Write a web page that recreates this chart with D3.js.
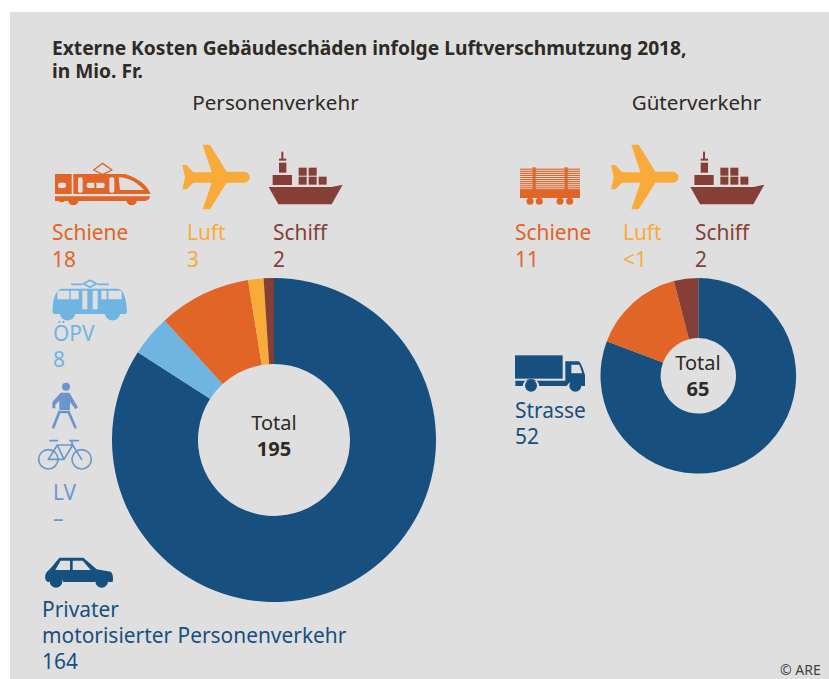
<!DOCTYPE html>
<html><head><meta charset="utf-8">
<script src="https://cdn.jsdelivr.net/npm/d3@7"></script>
<style>html,body{margin:0;padding:0;background:#fff}svg{display:block}text{font-family:"Noto Sans",sans-serif}</style>
</head><body><svg id="c" width="829" height="679"></svg>
<script>
const titleLines = ["Externe Kosten Gebäudeschäden infolge Luftverschmutzung 2018,", "in Mio. Fr."];
const passengerCategories = ["Privater motorisierter Personenverkehr", "ÖPV", "Schiene", "Luft", "Schiff"];
const passengerValues = [164, 8, 18, 3, 2];
// Freight ring: slice sizes as drawn in the picture (the printed labels are rounded differently)
const freightCategories = ["Strasse", "Schiene", "Schiff"];
const freightValues = [52.4, 9.9, 2.6];
const freightLabels = ["52", "11", "<1", "2"];
const colorByCategory = new Map([
  ["Privater motorisierter Personenverkehr", "#17507f"], ["Strasse", "#17507f"],
  ["ÖPV", "#70b5e2"], ["Schiene", "#e06526"], ["Luft", "#f9ab3a"], ["Schiff", "#853f36"]
]);
const LV = "#6b96cd", BLUE = "#17507f", LB = "#70b5e2", OR = "#e06526", YE = "#f9ab3a", BR = "#853f36", BG = "#dfdfdf", INK = "#2e2a26";

const svg = d3.select("#c");
svg.append("rect").attr("x", 10).attr("y", 12).attr("width", 819).attr("height", 667).attr("fill", BG);

function donut(cats, vals, cx, cy, R, r) {
  const pie = d3.pie().sort(null).value(d => d.v);
  const arc = d3.arc().outerRadius(R).innerRadius(r);
  svg.append("g").attr("transform", `translate(${cx},${cy})`)
    .selectAll("path").data(pie(cats.map((c, i) => ({c, v: vals[i]})))).join("path")
    .attr("d", arc).attr("fill", d => colorByCategory.get(d.data.c));
}
donut(passengerCategories, passengerValues, 274, 440, 162, 76);
donut(freightCategories, freightValues, 698.3, 375.8, 97.8, 37.7);

function t(x, y, s, fill, size, weight, anchor) {
  svg.append("text").attr("x", x).attr("y", y).text(s).attr("fill", fill)
    .attr("font-size", size).attr("font-weight", weight || 400).attr("text-anchor", anchor || "start");
}
t(52, 55, titleLines[0], INK, 19.2, 700);
t(52, 78, titleLines[1], INK, 19.2, 700);
t(275.5, 110, "Personenverkehr", INK, 20.6, 400, "middle");
t(696.5, 110, "Güterverkehr", INK, 20.6, 400, "middle");

const FS = 20.9;
t(52, 240, "Schiene", OR, FS); t(52, 267, String(passengerValues[2]), OR, FS);
t(187, 240, "Luft", YE, FS); t(187, 267, String(passengerValues[3]), YE, FS);
t(273, 240, "Schiff", BR, FS); t(273, 267, String(passengerValues[4]), BR, FS);
t(53, 341, "ÖPV", LB, FS); t(53, 367, String(passengerValues[1]), LB, FS);
t(53, 500, "LV", LV, FS); t(53, 526, "–", LV, FS);
t(42, 617, "Privater", BLUE, FS);
t(42, 643, "motorisierter Personenverkehr", BLUE, FS);
t(42, 669, String(passengerValues[0]), BLUE, FS);
t(515, 240, "Schiene", OR, FS); t(515, 267, freightLabels[1], OR, FS);
t(623, 240, "Luft", YE, FS); t(623, 267, freightLabels[2], YE, FS);
t(695, 240, "Schiff", BR, FS); t(695, 267, freightLabels[3], BR, FS);
t(515, 418, "Strasse", BLUE, FS); t(515, 444, freightLabels[0], BLUE, FS);
t(274, 430, "Total", INK, 20, 400, "middle"); t(274, 456, "195", INK, 20, 700, "middle");
t(698, 370, "Total", INK, 20, 400, "middle"); t(698, 396, "65", INK, 20, 700, "middle");
t(780, 675, "© ARE", "#444", 14);

// Icons traced in 3x crop coordinates, placed with a translate + scale(1/3)
function icon(ox, oy) { return svg.append("g").attr("transform", `translate(${ox},${oy}) scale(${1/3})`); }
function P(g, d, fill) { return g.append("path").attr("d", d).attr("fill", fill); }
function L(g, d, stroke, w) { return g.append("path").attr("d", d).attr("fill", "none").attr("stroke", stroke).attr("stroke-width", w).attr("stroke-linejoin","round").attr("stroke-linecap","round"); }
function R(g, x, y, w, h, fill, rx) { return g.append("rect").attr("x", x).attr("y", y).attr("width", w).attr("height", h).attr("fill", fill).attr("rx", rx || 0); }

// train
(function(){ const g = icon(30, 140);
  P(g, "M75 102H285C320 112 352 135 362 162H75Z", OR);
  P(g, "M75 169H360C360 176 355 182 345 183H320A14 12 0 0 1 290 183H145A14 12 0 0 1 115 183H105A14 12 0 0 1 85 183H75Z", OR);
  L(g, "M218 70L246 90L218 104L191 90Z", OR, 4);
  R(g, 84, 128, 24, 16, BG, 6); R(g, 125, 102, 5, 60, BG);
  R(g, 144, 112, 14, 46, BG, 5); R(g, 170, 128, 54, 16, BG, 6);
  R(g, 193, 128, 6, 16, OR); R(g, 238, 112, 15, 46, BG, 5);
  P(g, "M266 112C300 112 325 132 342 150H270Z", BG);
})();
const planeD = "M518 14L540 14L590 95H640C666 95 666 128 640 128H590L540 208H518L545 128H490L470 148H457L465 112L457 75H470L490 97H545Z";
function ship(g) {
  P(g, "M716 141H905L938 134L905 193H745Z", BR);
  R(g, 728, 105, 58, 30, BR); R(g, 747, 68, 22, 30, BR); R(g, 754, 35, 6, 25, BR);
  R(g, 747, 56, 22, 6, BR);
  [[806,83],[836,83],[806,110],[836,110],[866,110]].forEach(p => R(g, p[0], p[1], 24, 24, BR));
}
P(icon(30, 140), planeD, YE);
ship(icon(30, 140));
P(icon(458.7, 140), planeD, YE);
ship(icon(451.7, 140));

// tram
(function(){ const g = icon(30, 140);
  P(g, "M95 446H265C280 448 290 475 291 515C291 522 285 522 280 522H270A14 12 0 0 1 225 522H135A14 12 0 0 1 90 522H78C70 522 67 520 68 512C68 475 78 448 95 446Z", LB);
  L(g, "M160 431L180 421L200 431L180 442Z", LB, 5);
  L(g, "M125 433H155M205 433H235", LB, 5);
  R(g, 82, 452, 36, 26, BG, 3); R(g, 122, 452, 24, 26, BG);
  R(g, 157, 452, 15, 56, BG); R(g, 188, 452, 15, 56, BG);
  R(g, 214, 452, 16, 26, BG); R(g, 235, 452, 40, 26, BG, 3);
})();

// freight wagon
(function(){ const g = icon(500, 140);
  for (let y = 86; y < 148; y += 6.2) R(g, 60, y, 180, 3.4, OR);
  R(g, 98, 82, 9, 68, OR); R(g, 194, 82, 9, 68, OR);
  R(g, 60, 148, 180, 26, OR);
  [90, 118, 180, 209].forEach(x => g.append("circle").attr("cx", x).attr("cy", 184).attr("r", 10.5).attr("fill", OR));
})();

// pedestrian & bike
(function(){ const g = icon(20, 370);
  g.append("circle").attr("cx", 138).attr("cy", 50).attr("r", 12).attr("fill", LV);
  P(g, "M122 68H148L174 112L166 118L150 96V120H118V92L106 104V115H97V96Z", LV);
  L(g, "M118 126L100 172M146 126L166 172M118 126H146", LV, 8);
  L(g, "M85 268L112 225H158L185 268M112 225L132 268H85M132 268L158 225M90 212H112M150 212H175M158 225L154 212", LV, 5);
  [85, 185].forEach(x => g.append("circle").attr("cx", x).attr("cy", 268).attr("r", 29).attr("fill", "none").attr("stroke", LV).attr("stroke-width", 5));
})();

// car
(function(){ const g = icon(20, 370);
  P(g, "M118 563H190L230 598L272 605C280 612 280 628 278 636H265A22 22 0 0 0 225 636H130A22 22 0 0 0 88 636C78 636 74 628 76 615C78 606 88 600 92 595Z", BLUE);
  P(g, "M122 572H150V600H106Z", BG); P(g, "M158 572H188L212 600H158Z", BG);
  [108, 245].forEach(x => g.append("circle").attr("cx", x).attr("cy", 634).attr("r", 19).attr("fill", BLUE));
})();

// truck
(function(){ const g = icon(500, 340);
  R(g, 45, 46, 143, 70, BLUE);
  P(g, "M196 64H235C243 66 250 90 255 105V138H245A24 20 0 0 0 200 138H118A24 20 0 0 0 68 138H46V122H196Z", BLUE);
  P(g, "M214 74H238L247 100H214Z", BG);
  [93, 226].forEach(x => g.append("circle").attr("cx", x).attr("cy", 137).attr("r", 18).attr("fill", BLUE));
})();
</script></body></html>
